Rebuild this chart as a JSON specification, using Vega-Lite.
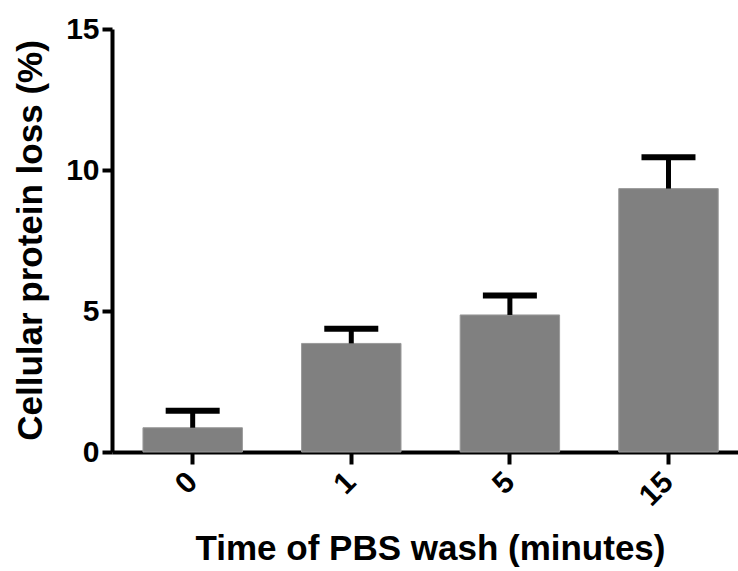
{
  "$schema": "https://vega.github.io/schema/vega-lite/v6.json",
  "autosize": {"type": "none"},
  "width": 626,
  "height": 423,
  "padding": {"left": 112, "top": 29, "right": 0, "bottom": 119},
  "background": "white",
  "config": {
    "view": {"stroke": null},
    "font": "Liberation Sans",
    "axis": {
      "grid": false,
      "domainColor": "black",
      "domainWidth": 4,
      "tickColor": "black",
      "tickWidth": 4,
      "labelColor": "black",
      "labelFont": "Liberation Sans",
      "labelFontWeight": "bold",
      "labelFontSize": 30,
      "titleColor": "black",
      "titleFont": "Liberation Sans",
      "titleFontWeight": "bold",
      "titleFontSize": 35
    }
  },
  "data": {
    "values": [
      {"minutes": "0", "mean": 0.86, "upper": 1.46},
      {"minutes": "1", "mean": 3.85, "upper": 4.37},
      {"minutes": "5", "mean": 4.86, "upper": 5.55},
      {"minutes": "15", "mean": 9.34, "upper": 10.45}
    ]
  },
  "encoding": {
    "x": {
      "field": "minutes",
      "type": "nominal",
      "sort": ["0", "1", "5", "15"],
      "scale": {"paddingInner": 0.373, "paddingOuter": 0.16, "align": 0.61},
      "axis": {
        "title": "Time of PBS wash (minutes)",
        "labelAngle": -45,
        "labelAlign": "right",
        "labelBaseline": "middle",
        "labelPadding": 13,
        "tickSize": 12,
        "titleX": 318,
        "titleY": 96,
        "titleAlign": "center",
        "titleBaseline": "middle"
      }
    }
  },
  "layer": [
    {
      "mark": {"type": "bar", "color": "#808080", "stroke": "#9a9a9a", "strokeWidth": 1},
      "encoding": {
        "y": {
          "field": "mean",
          "type": "quantitative",
          "scale": {"domain": [0, 15], "nice": false},
          "axis": {
            "title": "Cellular protein loss (%)",
            "values": [0, 5, 10, 15],
            "tickSize": 10,
            "labelPadding": 3,
            "titleX": -82,
            "titleY": 211,
            "titleAngle": 270,
            "titleAlign": "center",
            "titleBaseline": "middle"
          }
        }
      }
    },
    {
      "mark": {"type": "rule", "color": "black", "strokeWidth": 5},
      "encoding": {
        "y": {"field": "mean", "type": "quantitative"},
        "y2": {"field": "upper"}
      }
    },
    {
      "mark": {"type": "tick", "color": "black", "size": 54, "thickness": 6, "opacity": 1},
      "encoding": {
        "y": {"field": "upper", "type": "quantitative"}
      }
    }
  ]
}
